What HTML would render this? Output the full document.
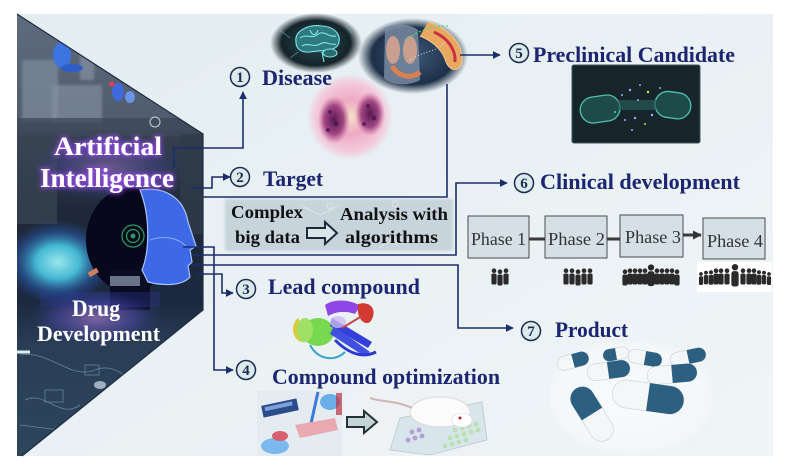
<!DOCTYPE html>
<html><head><meta charset="utf-8"><style>
html,body{margin:0;padding:0;background:#fff;}
svg{display:block;}
text{font-family:"Liberation Serif",serif;}
</style></head><body>
<svg width="792" height="473" viewBox="0 0 792 473" xmlns="http://www.w3.org/2000/svg">
<defs>
 <linearGradient id="bg" x1="0" y1="0" x2="1" y2="1">
  <stop offset="0" stop-color="#e3edf1"/><stop offset="1" stop-color="#f0f5f7"/>
 </linearGradient>
 <clipPath id="lp"><polygon points="17,14 203,134 203,310 22,456 17,456"/></clipPath>
 <linearGradient id="lpg" gradientUnits="userSpaceOnUse" x1="0" y1="14" x2="0" y2="456">
  <stop offset="0" stop-color="#5f6c7e"/>
  <stop offset="0.26" stop-color="#4e5b6d"/>
  <stop offset="0.28" stop-color="#353f4e"/>
  <stop offset="0.45" stop-color="#1e2838"/>
  <stop offset="0.65" stop-color="#1c2840"/>
  <stop offset="0.75" stop-color="#2a3e56"/>
  <stop offset="1" stop-color="#2c465c"/>
 </linearGradient>
 <radialGradient id="cyan" cx="0.5" cy="0.5" r="0.5">
  <stop offset="0" stop-color="#a8fbff"/>
  <stop offset="0.4" stop-color="#48c8e4"/>
  <stop offset="0.75" stop-color="#2a60b8" stop-opacity="0.5"/>
  <stop offset="1" stop-color="#2a50a0" stop-opacity="0"/>
 </radialGradient>
 <radialGradient id="purp" cx="0.5" cy="0.5" r="0.5">
  <stop offset="0" stop-color="#c890f0" stop-opacity="0.9"/>
  <stop offset="0.6" stop-color="#5a50c0" stop-opacity="0.7"/>
  <stop offset="1" stop-color="#3040a0" stop-opacity="0"/>
 </radialGradient>
 <radialGradient id="brain" cx="0.5" cy="0.5" r="0.5">
  <stop offset="0" stop-color="#2c4c52"/>
  <stop offset="0.75" stop-color="#15232a"/>
  <stop offset="1" stop-color="#15232a" stop-opacity="0"/>
 </radialGradient>
 <radialGradient id="body" cx="0.5" cy="0.5" r="0.5">
  <stop offset="0" stop-color="#3e5878"/>
  <stop offset="0.75" stop-color="#1e3048"/>
  <stop offset="1" stop-color="#1e3048" stop-opacity="0"/>
 </radialGradient>
 <radialGradient id="lung" cx="0.5" cy="0.5" r="0.5">
  <stop offset="0" stop-color="#f6e0c8"/>
  <stop offset="0.4" stop-color="#eeaac4"/>
  <stop offset="0.8" stop-color="#f3cadb"/>
  <stop offset="1" stop-color="#f3cadb" stop-opacity="0"/>
 </radialGradient>
 <radialGradient id="blob" cx="0.5" cy="0.5" r="0.5">
  <stop offset="0" stop-color="#5a1850"/>
  <stop offset="0.6" stop-color="#8a2a70" stop-opacity="0.8"/>
  <stop offset="1" stop-color="#c04a90" stop-opacity="0"/>
 </radialGradient>
 <radialGradient id="pillbg" cx="0.5" cy="0.5" r="0.6">
  <stop offset="0" stop-color="#fafcfd"/>
  <stop offset="0.8" stop-color="#f3f7f9"/>
  <stop offset="1" stop-color="#eaf2f5" stop-opacity="0"/>
 </radialGradient>
 <filter id="glow" x="-20%" y="-40%" width="140%" height="180%">
  <feMorphology in="SourceAlpha" operator="dilate" radius="1.2" result="d"/>
  <feGaussianBlur in="d" stdDeviation="2.5" result="b"/>
  <feFlood flood-color="#9a48f0" flood-opacity="0.85"/>
  <feComposite in2="b" operator="in" result="g"/>
  <feMerge><feMergeNode in="g"/><feMergeNode in="SourceGraphic"/></feMerge>
 </filter>
 <filter id="soft"><feGaussianBlur stdDeviation="1.2"/></filter>
 <filter id="blur3"><feGaussianBlur stdDeviation="3"/></filter>
 <marker id="ah" viewBox="0 0 10 10" refX="9" refY="5" markerWidth="5" markerHeight="5" orient="auto">
  <path d="M0,0 L10,5 L0,10 z" fill="#1c2d6a"/>
 </marker>
 <marker id="ah2" viewBox="0 0 10 10" refX="9" refY="5" markerWidth="3" markerHeight="3" orient="auto">
  <path d="M0,0 L10,5 L0,10 z" fill="#333"/>
 </marker>
 <g id="p">
  <circle cx="0" cy="-6.3" r="2.3"/>
  <rect x="-2.6" y="-3.5" width="5.2" height="11" rx="1.8"/>
 </g>
</defs>

<!-- background -->
<rect x="0" y="0" width="792" height="473" fill="#ffffff"/>
<rect x="17" y="14" width="756" height="442" fill="url(#bg)"/>

<!-- LEFT PANEL -->
<g clip-path="url(#lp)">
 <rect x="17" y="14" width="190" height="442" fill="url(#lpg)"/>
 <!-- top region details -->
 <g filter="url(#soft)">
 <rect x="22" y="60" width="36" height="62" fill="#7f8c9b" opacity="0.7"/>
 <rect x="52" y="85" width="50" height="38" fill="#8895a3" opacity="0.6"/>
 <rect x="80" y="40" width="14" height="40" fill="#98a4b2" opacity="0.5"/>
 </g>
 <ellipse cx="62" cy="55" rx="9" ry="13" fill="#3d74e0"/>
 <ellipse cx="72" cy="68" rx="11" ry="4" fill="#2f5ec8"/>
 <ellipse cx="118" cy="92" rx="6" ry="9" fill="#3e6ade"/>
 <ellipse cx="130" cy="97" rx="5" ry="6" fill="#6a94e8"/>
 <ellipse cx="112" cy="84" rx="3" ry="2.5" fill="#d04060"/>
 <rect x="17" y="118" width="190" height="16" fill="#3a4554" opacity="0.7"/>
 <circle cx="155" cy="122" r="5" fill="none" stroke="#c8d0d8" stroke-width="1"/>
 <!-- middle texture -->
 <rect x="17" y="134" width="40" height="90" fill="#3a4654" opacity="0.7"/>
 <rect x="180" y="134" width="25" height="100" fill="#303c4a" opacity="0.8"/>
 <!-- purple glow behind AI text -->
 <ellipse cx="108" cy="168" rx="78" ry="34" fill="url(#purp)" opacity="0.45"/>
 <!-- cyan glow -->
 <ellipse cx="58" cy="262" rx="55" ry="42" fill="url(#cyan)" opacity="0.9"/>
 <!-- dark head -->
 <ellipse cx="130" cy="240" rx="44" ry="52" fill="#07081c"/>
 <rect x="110" y="270" width="40" height="40" fill="#0a0c22"/>
 <!-- blue face -->
 <path d="M140,190 C165,186 184,198 188,222 L196,246 L190,250 L192,262 L188,266 L190,277 C182,286 164,286 148,282 L142,270 C150,250 150,215 140,190 Z" fill="#3d68e6" stroke="#a8c4ff" stroke-width="1.2"/>
 <path d="M150,240 C165,235 178,238 186,246" stroke="#8aaaf8" stroke-width="1" fill="none"/>
 <circle cx="133" cy="236" r="11" fill="none" stroke="#2a9a60" stroke-width="1.3"/>
 <circle cx="133" cy="236" r="6.5" fill="none" stroke="#2a9a60" stroke-width="1.3"/>
 <circle cx="133" cy="236" r="2.5" fill="#2a9a60"/>
 <rect x="110" y="276" width="30" height="10" fill="#c8d8f0" opacity="0.5"/>
 <rect x="88" y="270" width="10" height="5" fill="#d08060" transform="rotate(-30 93 272)"/>
 <!-- drug glow -->
 <ellipse cx="96" cy="318" rx="66" ry="28" fill="url(#purp)" opacity="0.6"/>
 <rect x="40" y="292" width="120" height="15" fill="#3040a0" opacity="0.3"/>
 <!-- bottom textures -->
 <g stroke="#8ab0c0" stroke-width="0.8" fill="none" opacity="0.6">
  <path d="M20,355 C50,350 70,380 95,370 C120,360 130,390 150,380"/>
  <path d="M25,400 C45,390 60,420 80,405"/>
  <rect x="45" y="390" width="18" height="12"/>
  <rect x="85" y="365" width="14" height="10"/>
  <path d="M20,425 L60,430"/>
 </g>
 <ellipse cx="100" cy="385" rx="6" ry="4" fill="#d0e0e8" opacity="0.7"/>
 <path d="M17,352 H30" stroke="#e0f0f8" stroke-width="3"/>
</g>
<path d="M17,14 L203,134 V310 L22,456" fill="none" stroke="#1e2c44" stroke-width="1.2"/>

<!-- Left panel text -->
<g filter="url(#glow)" fill="#ffffff" font-weight="bold">
 <text x="54" y="155" font-size="26" textLength="108" lengthAdjust="spacingAndGlyphs">Artificial</text>
 <text x="40" y="187" font-size="27" textLength="134" lengthAdjust="spacingAndGlyphs">Intelligence</text>
</g>
<g fill="#ffffff" font-weight="bold">
 <text x="72" y="316" font-size="23" textLength="48" lengthAdjust="spacingAndGlyphs">Drug</text>
 <text x="37" y="341" font-size="22" textLength="123" lengthAdjust="spacingAndGlyphs">Development</text>
</g>

<!-- IMAGES -->
<!-- brain -->
<ellipse cx="316" cy="43" rx="46" ry="30" fill="url(#brain)"/>
<g fill="none" stroke="#7ee6e6" stroke-width="1.1">
 <path d="M296,42 C294,30 310,24 322,26 C336,27 342,36 338,45 C334,52 320,50 310,52 C300,53 296,48 296,42 Z" fill="#2f7a80"/>
 <path d="M300,38 C306,33 312,40 318,34 C324,30 330,38 336,36"/>
 <path d="M302,46 C308,42 314,48 320,44 C326,40 330,46 336,44"/>
 <path d="M310,30 C312,36 316,36 318,30"/>
 <ellipse cx="330" cy="53" rx="7" ry="4" fill="#2a6a70"/>
 <path d="M322,52 L324,62"/>
 <path d="M280,30 L290,38 M345,25 L352,33 M290,58 L298,52" stroke-width="0.5"/>
</g>
<!-- body / pancreas -->
<ellipse cx="413" cy="56" rx="55" ry="38" fill="url(#body)"/>
<path d="M385,28 C395,22 410,24 418,30 L420,80 C410,86 392,86 384,78 Z" fill="#7d8fa6" opacity="0.8"/>
<ellipse cx="393" cy="50" rx="7" ry="14" fill="#c9a090"/>
<ellipse cx="410" cy="50" rx="7" ry="14" fill="#c9a090"/>
<path d="M392,66 C398,76 410,80 420,72" stroke="#d88050" stroke-width="5" fill="none"/>
<path d="M428,22 C448,28 464,44 462,62 C460,72 450,72 446,62 C442,48 430,40 420,36" fill="#e8a860" stroke="#f0c890" stroke-width="1"/>
<path d="M434,32 C448,38 456,50 455,62" stroke="#c83040" stroke-width="3" fill="none"/>
<path d="M405,40 C420,30 432,26 448,26" stroke="#50e070" stroke-width="1.2" stroke-dasharray="2 2" fill="none"/>
<path d="M410,60 C425,50 440,52 446,40" stroke="#e0e0e0" stroke-width="1" stroke-dasharray="1 2" fill="none"/>
<!-- pink lungs -->
<circle cx="350" cy="117" r="43" fill="url(#lung)"/>
<ellipse cx="334" cy="120" rx="16" ry="24" fill="url(#blob)"/>
<ellipse cx="370" cy="114" rx="15" ry="22" fill="url(#blob)"/>
<g fill="#4a1a50" opacity="0.8">
 <circle cx="330" cy="112" r="2"/><circle cx="336" cy="124" r="2.5"/><circle cx="328" cy="130" r="2"/>
 <circle cx="368" cy="106" r="2"/><circle cx="374" cy="118" r="2.5"/><circle cx="364" cy="124" r="2"/>
</g>

<!-- Complex big data box -->
<rect x="225" y="199" width="228" height="52" fill="#bccbd3" opacity="0.75" filter="url(#soft)"/>
<g opacity="0.4" stroke="#ffffff" stroke-width="1" fill="none">
 <circle cx="330" cy="206" r="3"/><circle cx="395" cy="204" r="3"/><path d="M300,205 L320,215 L340,205"/>
 <path d="M380,248 C390,236 400,250 410,238"/>
</g>
<g fill="#111" font-weight="bold" font-size="18">
 <text x="231" y="218" textLength="72" lengthAdjust="spacingAndGlyphs">Complex</text>
 <text x="235" y="243" textLength="65" lengthAdjust="spacingAndGlyphs">big data</text>
 <text x="340" y="220" textLength="108" lengthAdjust="spacingAndGlyphs">Analysis with</text>
 <text x="345" y="243" textLength="93" lengthAdjust="spacingAndGlyphs">algorithms</text>
</g>
<path d="M307,228 H325 V222 L337,233 L325,244 V238 H307 Z" fill="#dbe6e8" stroke="#1c2b3a" stroke-width="2"/>

<!-- preclinical candidate image -->
<rect x="572" y="65" width="128" height="78" fill="#17252b" stroke="#3c555c" stroke-width="1" rx="2"/>
<g transform="rotate(-8 600 108)">
 <rect x="580" y="96" width="40" height="26" rx="13" fill="#1e4b4a" stroke="#4cc0b0" stroke-width="1.3"/>
</g>
<g transform="rotate(8 672 104)">
 <rect x="655" y="92" width="36" height="26" rx="13" fill="#1e4b4a" stroke="#4cc0b0" stroke-width="1.3"/>
</g>
<rect x="618" y="100" width="38" height="10" fill="#2a5a5a" opacity="0.7"/>
<g fill="#8ab0ff">
 <circle cx="630" cy="90" r="1.2"/><circle cx="640" cy="85" r="1"/><circle cx="622" cy="95" r="1"/><circle cx="648" cy="92" r="1.2" fill="#e0e060"/>
 <circle cx="635" cy="118" r="1.2"/><circle cx="645" cy="124" r="1" fill="#d0d060"/><circle cx="625" cy="120" r="1"/><circle cx="652" cy="115" r="1.2"/>
 <circle cx="660" cy="88" r="1"/><circle cx="615" cy="112" r="1" fill="#60e0a0"/><circle cx="638" cy="100" r="1"/><circle cx="632" cy="130" r="1"/>
</g>

<!-- protein -->
<g opacity="0.95">
 <path d="M298,318 C290,325 292,340 302,342 C310,345 305,330 298,318 Z" fill="#d8c830"/>
 <ellipse cx="318" cy="332" rx="16" ry="14" fill="#70d848"/>
 <ellipse cx="305" cy="330" rx="8" ry="12" fill="#9ee060"/>
 <path d="M325,305 C335,298 352,300 360,306 L355,314 C345,310 335,312 328,316 Z" fill="#8a3ee6"/>
 <path d="M358,304 C372,300 378,312 370,322 C364,326 356,318 358,304 Z" fill="#d03028"/>
 <path d="M332,318 L372,342 L368,348 L330,326 Z" fill="#2a36d8"/>
 <path d="M334,326 L370,352 L364,356 L330,334 Z" fill="#3a48e0"/>
 <path d="M335,340 C345,350 360,360 376,352" stroke="#2030d0" stroke-width="3" fill="none"/>
 <path d="M310,345 C318,360 335,362 345,352" stroke="#30a0c8" stroke-width="2" fill="none"/>
 <ellipse cx="338" cy="322" rx="8" ry="6" fill="#c8b8f0" opacity="0.8"/>
 <path d="M342,328 L362,316" stroke="#c04040" stroke-width="2"/>
</g>

<!-- lab photo -->
<rect x="257" y="391" width="85" height="65" fill="#e4ecf2"/>
<rect x="262" y="402" width="36" height="12" fill="#2b4c8c" transform="rotate(-12 280 408)"/>
<rect x="265" y="404" width="28" height="4" fill="#7ea0d8" transform="rotate(-12 280 408)"/>
<path d="M318,392 L310,428" stroke="#3a7ad8" stroke-width="3"/>
<ellipse cx="330" cy="402" rx="10" ry="8" fill="#6aaee8"/>
<path d="M295,425 L335,418 L338,430 L300,438 Z" fill="#eaa8b0"/>
<ellipse cx="275" cy="446" rx="14" ry="8" fill="#7ab8ee"/>
<ellipse cx="280" cy="436" rx="8" ry="5" fill="#d66070"/>
<rect x="336" y="393" width="6" height="22" fill="#c03040" opacity="0.7"/>

<!-- mouse photo -->
<rect x="357" y="388" width="130" height="67" fill="#eef2f5"/>
<path d="M390,450 L400,418 L482,402 L487,440 L430,455 Z" fill="#d8e6ec" stroke="#b8c8d0" stroke-width="0.8"/>
<g fill="#b8e0b0" opacity="0.9">
 <circle cx="455" cy="430" r="2.5"/><circle cx="462" cy="428" r="2.5"/><circle cx="469" cy="426" r="2.5"/><circle cx="476" cy="424" r="2.5"/>
 <circle cx="450" cy="438" r="2.5"/><circle cx="457" cy="436" r="2.5"/><circle cx="464" cy="434" r="2.5"/><circle cx="471" cy="432" r="2.5"/><circle cx="478" cy="430" r="2.5"/>
 <circle cx="445" cy="446" r="2.5"/><circle cx="452" cy="444" r="2.5"/><circle cx="459" cy="442" r="2.5"/><circle cx="466" cy="440" r="2.5"/>
</g>
<g fill="#a890d0" opacity="0.8">
 <circle cx="412" cy="432" r="2.5"/><circle cx="419" cy="430" r="2.5"/><circle cx="408" cy="440" r="2.5"/><circle cx="415" cy="438" r="2.5"/><circle cx="422" cy="436" r="2.5"/>
</g>
<ellipse cx="440" cy="412" rx="30" ry="15" fill="#fbfbfb" stroke="#d4d4d4" stroke-width="0.8"/>
<ellipse cx="462" cy="420" rx="10" ry="7" fill="#ffffff" stroke="#d8d8d8" stroke-width="0.6"/>
<circle cx="460" cy="418" r="1.5" fill="#c02030"/>
<path d="M412,408 C395,400 380,402 370,398" stroke="#d0b4b4" stroke-width="2" fill="none"/>

<!-- hollow arrow 2 (on top) -->
<path d="M347,417 H364 V411 L377,422 L364,433 V427 H347 Z" fill="#c5d5d5" stroke="#233" stroke-width="2"/>

<!-- pills -->
<rect x="550" y="342" width="162" height="110" fill="url(#pillbg)"/>
<g>
 <g transform="rotate(-15 573 361)"><rect x="557" y="354" width="32" height="14" rx="7" fill="#f4f7f8" stroke="#c5d2d8" stroke-width="0.6"/><path d="M573,354 H582 A7,7 0 0 1 582,368 H573 Z" fill="#2c5f80"/></g>
 <g transform="rotate(-10 616 354)"><rect x="603" y="348" width="26" height="12" rx="6" fill="#f4f7f8" stroke="#c5d2d8" stroke-width="0.6"/><path d="M603,354 A6,6 0 0 1 609,348 H616 V360 H609 A6,6 0 0 1 603,354 Z" fill="#2c5f80"/></g>
 <g transform="rotate(10 645 358)"><rect x="628" y="351" width="34" height="14" rx="7" fill="#f4f7f8" stroke="#c5d2d8" stroke-width="0.6"/><path d="M645,351 H655 A7,7 0 0 1 655,365 H645 Z" fill="#2c5f80"/></g>
 <g transform="rotate(-12 688 357)"><rect x="670" y="350" width="36" height="14" rx="7" fill="#f4f7f8" stroke="#c5d2d8" stroke-width="0.6"/><path d="M688,350 H699 A7,7 0 0 1 699,364 H688 Z" fill="#2c5f80"/></g>
 <g transform="rotate(-8 608 370)"><rect x="587" y="362" width="43" height="17" rx="8.5" fill="#f4f7f8" stroke="#c5d2d8" stroke-width="0.6"/><path d="M608,362 H621.5 A8.5,8.5 0 0 1 621.5,379 H608 Z" fill="#2c5f80"/></g>
 <g transform="rotate(-5 672 374)"><rect x="647" y="365" width="50" height="18" rx="9" fill="#f4f7f8" stroke="#c5d2d8" stroke-width="0.6"/><path d="M672,365 H688 A9,9 0 0 1 688,383 H672 Z" fill="#2c5f80"/></g>
 <g transform="rotate(58 592 414)"><rect x="562" y="402" width="60" height="24" rx="12" fill="#f4f7f8" stroke="#c5d2d8" stroke-width="0.6"/><path d="M592,402 H574 A12,12 0 0 0 574,426 H592 Z" fill="#2c5f80"/></g>
 <g transform="rotate(8 648 397)"><rect x="612" y="383" width="72" height="28" rx="14" fill="#f4f7f8" stroke="#c5d2d8" stroke-width="0.6"/><path d="M648,383 H670 A14,14 0 0 1 670,411 H648 Z" fill="#2c5f80"/></g>
</g>

<!-- Phase boxes -->
<g fill="#d4e0e6" stroke="#4a4a4a" stroke-width="1">
 <rect x="468" y="216" width="61" height="42"/>
 <rect x="545" y="216" width="62" height="42"/>
 <rect x="620" y="215" width="63" height="42"/>
 <rect x="703" y="218" width="62" height="41"/>
</g>
<g stroke="#3a3a3a" stroke-width="3">
 <line x1="529" y1="239" x2="545" y2="239"/>
 <line x1="607" y1="239" x2="620" y2="239"/>
 <line x1="683" y1="235" x2="701" y2="235" marker-end="url(#ah2)"/>
</g>
<g fill="#333" font-size="18">
 <text x="471" y="245" textLength="55" lengthAdjust="spacingAndGlyphs">Phase 1</text>
 <text x="548" y="245" textLength="57" lengthAdjust="spacingAndGlyphs">Phase 2</text>
 <text x="625" y="243" textLength="56" lengthAdjust="spacingAndGlyphs">Phase 3</text>
 <text x="707" y="247" textLength="56" lengthAdjust="spacingAndGlyphs">Phase 4</text>
</g>

<!-- people -->
<g fill="#2a2a2a">
 <use href="#p" x="494" y="277"/><use href="#p" x="500" y="278"/><use href="#p" x="506" y="277"/>
 <use href="#p" x="566" y="277"/><use href="#p" x="572" y="277"/><use href="#p" x="578" y="278"/><use href="#p" x="584" y="277"/><use href="#p" x="590" y="277"/>
 <use href="#p" x="625" y="278"/><use href="#p" x="630" y="277"/><use href="#p" x="635" y="277"/><use href="#p" x="640" y="277"/><use href="#p" x="645" y="277"/>
 <use href="#p" x="657" y="277"/><use href="#p" x="662" y="277"/><use href="#p" x="667" y="277"/><use href="#p" x="672" y="277"/><use href="#p" x="677" y="278"/>
 <use href="#p" transform="translate(651 276) scale(1.35)"/>
</g>
<rect x="697" y="262" width="75" height="30" fill="#ffffff"/>
<g fill="#2a2a2a">
 <use href="#p" transform="translate(701 279) scale(0.8)"/><use href="#p" transform="translate(706 278) scale(0.85)"/><use href="#p" transform="translate(711 278) scale(0.9)"/>
 <use href="#p" x="716" y="277"/><use href="#p" x="721" y="277"/><use href="#p" x="727" y="277"/>
 <use href="#p" transform="translate(735 276) scale(1.4)"/>
 <use href="#p" x="743" y="277"/><use href="#p" x="749" y="277"/><use href="#p" x="754" y="277"/>
 <use href="#p" transform="translate(759 278) scale(0.9)"/><use href="#p" transform="translate(764 278) scale(0.85)"/><use href="#p" transform="translate(769 279) scale(0.8)"/>
</g>

<!-- Connectors -->
<g fill="none" stroke="#1c2d6a" stroke-width="1.6">
 <path d="M174,168 V148 H243 V92" marker-end="url(#ah)"/>
 <path d="M190,188 H212 V177 H230" marker-end="url(#ah)"/>
 <path d="M203,197 H447 V84"/>
 <path d="M460,55 H500" marker-end="url(#ah)"/>
 <path d="M192,255 H456 V183 H507" marker-end="url(#ah)"/>
 <path d="M192,265 H458 V328 H513" marker-end="url(#ah)"/>
 <path d="M197,274 H222 V293 H233" marker-end="url(#ah)"/>
 <path d="M183,247 H214 V370 H233" marker-end="url(#ah)"/>
</g>

<!-- Numbered circles -->
<g fill="#dcebea" stroke="#1c2b55" stroke-width="1.5">
 <circle cx="240" cy="77" r="9.5"/>
 <circle cx="240" cy="177" r="9.5"/>
 <circle cx="246" cy="289" r="9.5"/>
 <circle cx="246" cy="370" r="9.5"/>
 <circle cx="519" cy="53" r="9.5"/>
 <circle cx="524" cy="183" r="9.5"/>
 <circle cx="531" cy="331" r="9.5"/>
</g>
<g fill="#1c2b55" font-size="15" font-weight="bold" text-anchor="middle">
 <text x="240" y="82">1</text>
 <text x="240" y="182">2</text>
 <text x="246" y="294">3</text>
 <text x="246" y="375">4</text>
 <text x="519" y="58">5</text>
 <text x="524" y="188">6</text>
 <text x="531" y="336">7</text>
</g>

<!-- Labels -->
<g fill="#1b2570" font-weight="bold" font-size="22">
 <text x="262" y="85" textLength="70" lengthAdjust="spacingAndGlyphs">Disease</text>
 <text x="263" y="186" textLength="60" lengthAdjust="spacingAndGlyphs">Target</text>
 <text x="533" y="62" textLength="202" lengthAdjust="spacingAndGlyphs">Preclinical Candidate</text>
 <text x="540" y="189" textLength="200" lengthAdjust="spacingAndGlyphs">Clinical development</text>
 <text x="268" y="294" textLength="152" lengthAdjust="spacingAndGlyphs">Lead compound</text>
 <text x="272" y="384" textLength="228" lengthAdjust="spacingAndGlyphs">Compound optimization</text>
 <text x="555" y="337" textLength="73" lengthAdjust="spacingAndGlyphs">Product</text>
</g>
</svg>
</body></html>
